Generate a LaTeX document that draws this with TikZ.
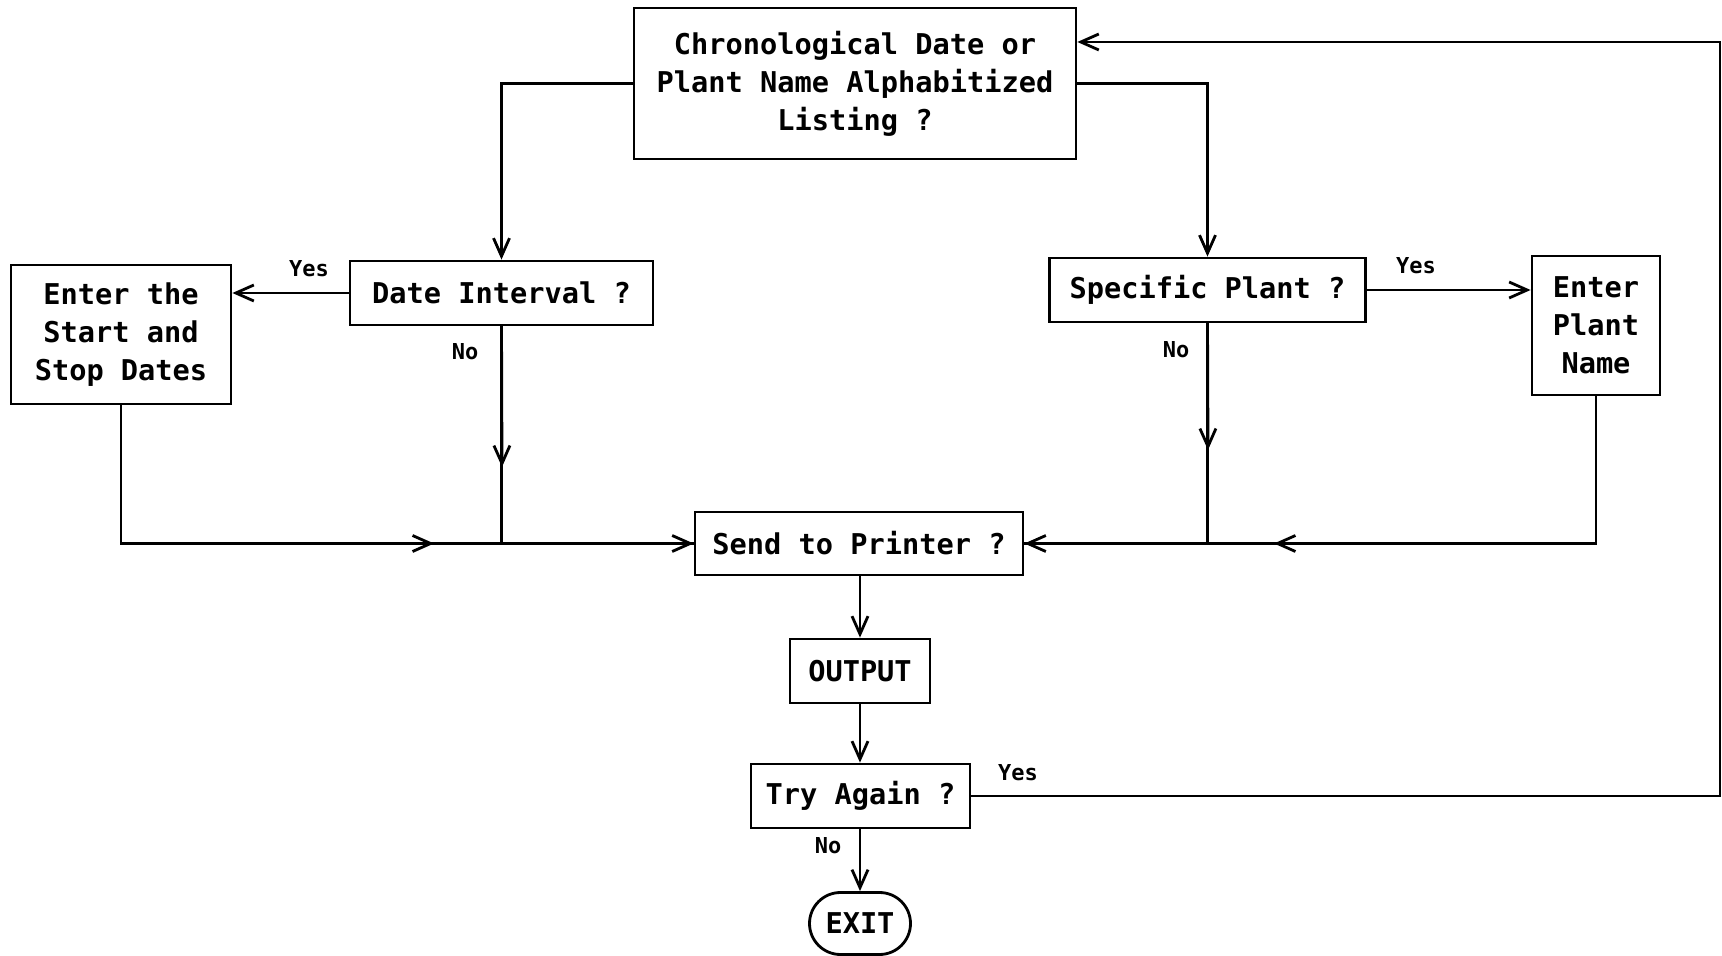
\documentclass[tikz,border=0pt]{standalone}
\usepackage{fontspec}
\setmonofont{DejaVu Sans Mono}
\usetikzlibrary{arrows.meta,shapes.misc}
\begin{document}
\begin{tikzpicture}[x=0.02cm,y=-0.02cm,
  every node/.style={font=\ttfamily\bfseries\fontsize{16.3}{21.6}\selectfont},
  box/.style={draw,line width=1.6pt,align=center,inner sep=0pt},
  lbl/.style={font=\ttfamily\bfseries\fontsize{12.5}{14}\selectfont},
  arr/.style={-{Straight Barb[length=3.6mm,width=3.2mm,line width=1.6pt]}},
  line width=1.6pt]
\useasboundingbox (0,0) rectangle (1722,956);
\node[box,minimum width=8.84cm,minimum height=3.02cm] (top) at (855,83.5) {Chronological Date or\\Plant Name Alphabitized\\Listing ?};
\node[box,minimum width=6.06cm,minimum height=1.28cm] (date) at (501.5,293) {Date Interval ?};
\node[box,minimum width=4.4cm,minimum height=2.78cm] (enter) at (121,334.5) {Enter the\\Start and\\Stop Dates};
\node[box,minimum width=6.32cm,minimum height=1.28cm] (spec) at (1207.5,290) {Specific Plant ?};
\node[box,minimum width=2.56cm,minimum height=2.78cm] (pname) at (1596,325.5) {Enter\\Plant\\Name};
\node[box,minimum width=6.56cm,minimum height=1.26cm] (send) at (859,543.5) {Send to Printer ?};
\node[box,minimum width=2.8cm,minimum height=1.28cm] (out) at (860,671) {OUTPUT};
\node[box,minimum width=4.38cm,minimum height=1.28cm] (try) at (860.5,796) {Try Again ?};
\node[box,rounded rectangle,minimum width=2.02cm,minimum height=1.24cm] (exit) at (860,923.5) {EXIT};

\coordinate (dmid) at (502,467);
\coordinate (lmid) at (434,543.5);
\coordinate (smid) at (1208,450);
\coordinate (rmid) at (1274,543.5);
\coordinate (loopc) at (1720,42);

\draw[arr] (top.west) -| (date.north);
\draw[arr] (top.east) -| (spec.north);
\draw[arr] (date.west) -- (date.west -| enter.east);
\draw[arr] (spec.east) -- (spec.east -| pname.west);
\draw (date.south) -- (date.south |- send.west);
\draw[arr] (date.south) -- (dmid);
\draw (enter.south) |- (send.west);
\draw[arr] (enter.south) |- (lmid);
\draw[arr] (lmid) -- (send.west);
\draw (spec.south) -- (spec.south |- send.east);
\draw[arr] (spec.south) -- (smid);
\draw (pname.south) |- (send.east);
\draw[arr] (pname.south) |- (rmid);
\draw[arr] (rmid) -- (send.east);
\draw[arr] (out.north |- send.south) -- (out.north);
\draw[arr] (out.south) -- (out.south |- try.north);
\draw[arr] (exit.north |- try.south) -- (exit.north);
\draw[arr] (try.east) -| (loopc) -- (top.east |- loopc);

\node[lbl] (y1) at (309,269) {Yes};
\node[lbl] (n1) at (465,352) {No};
\node[lbl] (y2) at (1416,266) {Yes};
\node[lbl] (n2) at (1176,350) {No};
\node[lbl] (y3) at (1018,773) {Yes};
\node[lbl] (n3) at (828,846) {No};
\end{tikzpicture}
\end{document}
